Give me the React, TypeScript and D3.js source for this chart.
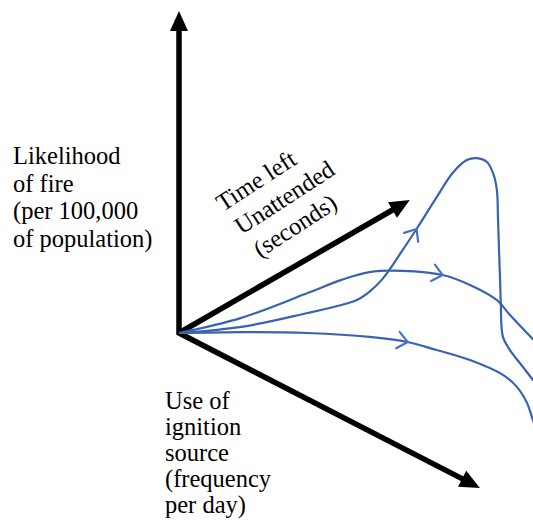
import React, { useEffect, useRef } from "react";
import * as d3 from "d3";

const WIDTH = 533;
const HEIGHT = 524;

// Conceptual units: x = distance along the page to the right, y = height above origin
const peakCurve: [number, number][] = [
  [0, 0], [17.6, 1.9], [36.3, 6.2], [45.9, 8.7], [50.4, 10.3], [54.0, 13.0],
  [57.5, 16.8], [63.2, 25.8], [67.1, 32.3], [72.8, 42.2], [77.3, 49.7],
  [81.3, 53.7], [84.1, 54.3], [87.0, 53.1], [88.7, 49.7], [89.8, 44.4],
  [90.1, 36.0], [90.4, 25.8], [90.7, 16.5], [90.9, 9.3], [91.5, -1.2],
  [93.5, -5.3], [97.2, -10.6], [100, -14.6], [103.4, -19.3],
];
const plateauCurve: [number, number][] = [
  [0, 0], [17.6, 4.7], [36.3, 12.4], [45.9, 16.5], [53.8, 18.9], [63.2, 19.3],
  [74.5, 18.0], [82.2, 14.9], [89.8, 10.2], [93.5, 5.6], [99.7, -1.6], [103.4, -5.9],
];
const flatCurve: [number, number][] = [
  [0, 0], [17.6, 0.3], [36.3, 0], [53.8, -1.2], [64.6, -2.8], [72.8, -5.3],
  [82.2, -8.4], [91.5, -13.0], [95.5, -16.8], [98.3, -21.7], [99.7, -26.1], [101.4, -31.7],
];
const curves = [peakCurve, plateauCurve, flatCurve];
const chevronX = [67.1, 74.5, 64.6];

// axis tips
const upTip: [number, number] = [0, 100];
const timeTip: [number, number] = [65.2, 41.3];
const useTip: [number, number] = [85.0, -48.1];

const yLabel = ["Likelihood", "of fire", "(per 100,000", "of population)"];
const timeLabel = ["Time left", "Unattended", "(seconds)"];
const useLabel = ["Use of", "ignition", "source", "(frequency", "per day)"];

const FONT = "'Liberation Serif', 'Times New Roman', serif";

export default function App() {
  const ref = useRef<SVGSVGElement | null>(null);

  useEffect(() => {
    const svg = d3.select(ref.current);
    svg.selectAll("*").remove();

    const x = d3.scaleLinear().domain([0, 100]).range([179, 533]);
    const y = d3.scaleLinear().domain([0, 100]).range([333, 11]);

    const HEAD_LEN = 20;
    const HEAD_HW = 9;
    const AXIS_W = 5.5;

    const ox = x(0), oy = y(0);

    function headBase(tx: number, ty: number) {
      const dx = tx - ox, dy = ty - oy;
      const L = Math.hypot(dx, dy);
      const ux = dx / L, uy = dy / L;
      return { bx: tx - ux * HEAD_LEN, by: ty - uy * HEAD_LEN, ux, uy };
    }
    function drawHead(tx: number, ty: number) {
      const { bx, by, ux, uy } = headBase(tx, ty);
      const px = -uy, py = ux;
      svg.append("path")
        .attr("d", `M${tx},${ty} L${bx + px * HEAD_HW},${by + py * HEAD_HW} L${bx - px * HEAD_HW},${by - py * HEAD_HW} Z`)
        .attr("fill", "#000");
    }

    const up = [x(upTip[0]), y(upTip[1])];
    const tm = [x(timeTip[0]), y(timeTip[1])];
    const us = [x(useTip[0]), y(useTip[1])];
    const ub = headBase(up[0], up[1]);
    const tb = headBase(tm[0], tm[1]);
    const sb = headBase(us[0], us[1]);

    // vertical + bottom axes as one polyline for a sharp corner
    svg.append("path")
      .attr("d", `M${ub.bx + ub.ux * 2},${ub.by + ub.uy * 2} L${ox},${oy} L${sb.bx + sb.ux * 2},${sb.by + sb.uy * 2}`)
      .attr("fill", "none")
      .attr("stroke", "#000")
      .attr("stroke-width", AXIS_W)
      .attr("stroke-linejoin", "miter")
      .attr("stroke-miterlimit", 10);
    svg.append("line")
      .attr("x1", ox).attr("y1", oy)
      .attr("x2", tb.bx + tb.ux * 2).attr("y2", tb.by + tb.uy * 2)
      .attr("stroke", "#000")
      .attr("stroke-width", AXIS_W);
    drawHead(up[0], up[1]);
    drawHead(tm[0], tm[1]);
    drawHead(us[0], us[1]);

    const line = d3.line<[number, number]>()
      .x((d) => x(d[0]))
      .y((d) => y(d[1]))
      .curve(d3.curveCatmullRom.alpha(0.5));

    curves.forEach((c, i) => {
      const p = svg.append("path")
        .attr("d", line(c) as string)
        .attr("fill", "none")
        .attr("stroke", "#3a62b0")
        .attr("stroke-width", 2.2);
      const node = p.node() as SVGPathElement;
      const total = node.getTotalLength();
      const target = x(chevronX[i]);
      let lo = 0, hi = total;
      for (let k = 0; k < 40; k++) {
        const mid = (lo + hi) / 2;
        if (node.getPointAtLength(mid).x < target) lo = mid; else hi = mid;
      }
      const pt = node.getPointAtLength(lo);
      const a = node.getPointAtLength(Math.max(0, lo - 3));
      const b = node.getPointAtLength(Math.min(total, lo + 3));
      const ang = Math.atan2(b.y - a.y, b.x - a.x);
      const arm = 13;
      const half = (40 * Math.PI) / 180;
      const a1 = ang + Math.PI - half, a2 = ang + Math.PI + half;
      svg.append("path")
        .attr("d", `M${pt.x + arm * Math.cos(a1)},${pt.y + arm * Math.sin(a1)} L${pt.x},${pt.y} L${pt.x + arm * Math.cos(a2)},${pt.y + arm * Math.sin(a2)}`)
        .attr("fill", "none")
        .attr("stroke", "#4472c4")
        .attr("stroke-width", 2.2)
        .attr("stroke-linecap", "round")
        .attr("stroke-linejoin", "round");
    });

    // labels
    const yl = svg.append("text")
      .attr("font-family", FONT)
      .attr("font-size", 24.5)
      .attr("fill", "#000");
    yLabel.forEach((t, i) => {
      yl.append("tspan").attr("x", 13).attr("y", 164 + i * 27.7).text(t);
    });

    const ul = svg.append("text")
      .attr("font-family", FONT)
      .attr("font-size", 24.5)
      .attr("fill", "#000");
    useLabel.forEach((t, i) => {
      ul.append("tspan").attr("x", 165).attr("y", 409 + i * 26).text(t);
    });

    const tg = svg.append("g").attr("transform", "translate(223,212) rotate(-33)");
    const tl = tg.append("text")
      .attr("font-family", FONT)
      .attr("font-size", 24.5)
      .attr("fill", "#000");
    const offs = [0, 3, 6];
    timeLabel.forEach((t, i) => {
      tl.append("tspan").attr("x", offs[i]).attr("y", i * 29.5).text(t);
    });
  }, []);

  return (
    <svg
      ref={ref}
      width={WIDTH}
      height={HEIGHT}
      style={{ position: "absolute", left: 0, top: 0, background: "#fff" }}
    />
  );
}
